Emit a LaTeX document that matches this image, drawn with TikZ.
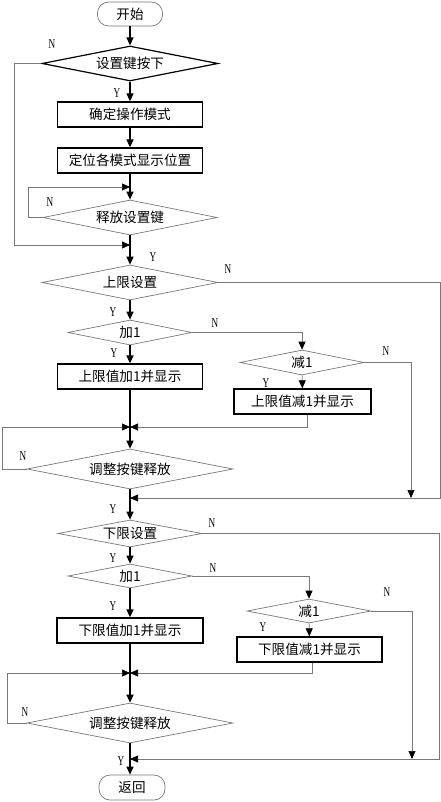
\documentclass[tikz,border=0pt]{standalone}
\usepackage{fontspec}
\setmainfont{Liberation Serif}
\newfontfamily\cjkfont{Noto Sans CJK SC}
\usetikzlibrary{shapes.geometric,arrows.meta}
\definecolor{lgray}{RGB}{120,120,120}
\tikzset{
  thk/.style={line width=1.3pt, draw=black},
  thn/.style={line width=0.7pt, draw=lgray},
  arr/.style={-{Triangle[length=8pt,width=7pt,color=black]}},
  txt/.style={font=\cjkfont\fontsize{13.6}{15}\selectfont, text=black},
  proc/.style={txt, draw=black, line width=1.3pt, minimum width=145pt, minimum height=25pt, inner sep=0pt},
  dec/.style={txt, diamond, draw=lgray, line width=0.7pt, inner sep=0pt},
  term/.style={txt, draw=lgray, line width=0.7pt, rounded corners=11pt, minimum width=65pt, minimum height=24pt, inner sep=0pt},
  yn/.style={font=\fontsize{13.5}{13.5}\selectfont, inner sep=0pt}
}
\newcommand{\narrow}[1]{\scalebox{0.68}[1]{#1}}
\begin{document}
\begin{tikzpicture}[x=1pt,y=-1pt]
\useasboundingbox (0,0) rectangle (441,802);

% nodes
\node[term] (start) at (130,14) {开始};
\node[dec, draw=black, line width=1.2pt, minimum width=176pt, minimum height=35pt, aspect=5] (d1) at (130,63.5) {设置键按下};
\node[proc] (b1) at (130,114.5) {确定操作模式};
\node[proc] (b2) at (130,160.5) {定位各模式显示位置};
\node[dec, minimum width=174pt, minimum height=35pt, aspect=5] (d2) at (130,217.5) {释放设置键};
\node[dec, minimum width=176pt, minimum height=35pt, aspect=5] (d3) at (130,282.5) {上限设置};
\node[dec, minimum width=124pt, minimum height=25pt, aspect=5] (d4) at (130,332.5) {加1};
\node[dec, minimum width=124pt, minimum height=25pt, aspect=5] (d5) at (302,362.5) {减1};
\node[proc] (b3) at (130,376.5) {上限值加1并显示};
\node[proc, minimum width=137pt] (b4) at (302.5,401.5) {上限值减1并显示};
\node[dec, minimum width=206pt, minimum height=40pt, aspect=5.15] (d6) at (130,469) {调整按键释放};
\node[dec, minimum width=144pt, minimum height=27pt, aspect=5.3] (d7) at (130,533.5) {下限设置};
\node[dec, minimum width=124pt, minimum height=24pt, aspect=5.2] (d8) at (130,576) {加1};
\node[dec, minimum width=124pt, minimum height=24pt, aspect=5.2] (d9) at (309,611) {减1};
\node[proc, minimum width=146pt] (b5) at (130,630.5) {下限值加1并显示};
\node[proc] (b6) at (309.5,649.5) {下限值减1并显示};
\node[dec, minimum width=206pt, minimum height=40pt, aspect=5.15] (d10) at (130,723) {调整按键释放};
\node[term, minimum width=66pt, minimum height=25pt] (stop) at (132,787.5) {返回};

% junctions and bends
\coordinate (j1) at (130,245);
\coordinate (j2) at (130,427);
\coordinate (j3) at (130,498);
\coordinate (j4) at (130,673);
\coordinate (j5) at (130,759);
\coordinate (l1) at (14,245);
\coordinate (l2) at (28,187);
\coordinate (l3) at (2,427);
\coordinate (l4) at (7,673);
\coordinate (r1) at (440,498);
\coordinate (r2) at (411,498);
\coordinate (r3) at (439.5,759);
\coordinate (r4) at (412,759);
\coordinate (c4) at (307,427);
\coordinate (c6) at (312,673);

% main flow
\draw[thk,arr] (start) -- (d1);
\draw[thk,arr] (d1) -- (b1);
\draw[thk,arr] (b1) -- (b2);
\draw[thk,arr] (b2) -- (d2);
\draw[thk,arr] (d2) -- (d3);
\draw[thk,arr] (d3) -- (d4);
\draw[thk,arr] (d4) -- (b3);
\draw[thk,arr] (b3) -- (d6);
\draw[thk,arr] (d6) -- (d7);
\draw[thk,arr] (d7) -- (d8);
\draw[thk,arr] (d8) -- (b5);
\draw[thk,arr] (b5) -- (d10);
\draw[thk,arr] (d10.south) -- (d10.south |- stop.north);

% side branches
\draw[thn,arr] (d1.west) -| (l1) -- (j1);
\draw[thn,arr] (d2.west) -| (l2) -- (l2 -| d2);
\draw[thn,arr] (d3.east) -| (r1) -- (j3);
\draw[thn,arr] (d4.east) -| (d5.north);
\draw[thn,arr] (d5) -- (b4);
\draw[thn,arr] (d5.east) -| (r2);
\draw[thn,arr] (b4.south -| c4) -- (c4) -- (j2);
\draw[thn,arr] (d6.west) -| (l3) -- (j2);
\draw[thn,arr] (d7.east) -| (r3) -- (j5);
\draw[thn,arr] (d8.east) -| (d9.north);
\draw[thn,arr] (d9) -- (b6);
\draw[thn,arr] (d9.east) -| (r4);
\draw[thn,arr] (b6.south -| c6) -- (c6) -- (j4);
\draw[thn,arr] (d10.west) -| (l4) -- (j4);

% labels
\node[yn] (n1) at (52,44) {\narrow{N}};
\node[yn] (y1) at (117,93) {\narrow{Y}};
\node[yn] (n2) at (50,202) {\narrow{N}};
\node[yn] (y2) at (153,257) {\narrow{Y}};
\node[yn] (n3) at (228,269) {\narrow{N}};
\node[yn] (y3) at (113,312) {\narrow{Y}};
\node[yn] (n4) at (215,323) {\narrow{N}};
\node[yn] (y4) at (114,353) {\narrow{Y}};
\node[yn] (n5) at (386,351) {\narrow{N}};
\node[yn] (y5) at (266,383) {\narrow{Y}};
\node[yn] (n6) at (23,456) {\narrow{N}};
\node[yn] (y6) at (113,509) {\narrow{Y}};
\node[yn] (n7) at (212,523) {\narrow{N}};
\node[yn] (y7) at (113,558) {\narrow{Y}};
\node[yn] (n8) at (213,568) {\narrow{N}};
\node[yn] (y8) at (113,606) {\narrow{Y}};
\node[yn] (n9) at (387,592) {\narrow{N}};
\node[yn] (y9) at (263,627) {\narrow{Y}};
\node[yn] (n10) at (25,712) {\narrow{N}};
\node[yn] (y10) at (121,761) {\narrow{Y}};
\end{tikzpicture}
\end{document}
